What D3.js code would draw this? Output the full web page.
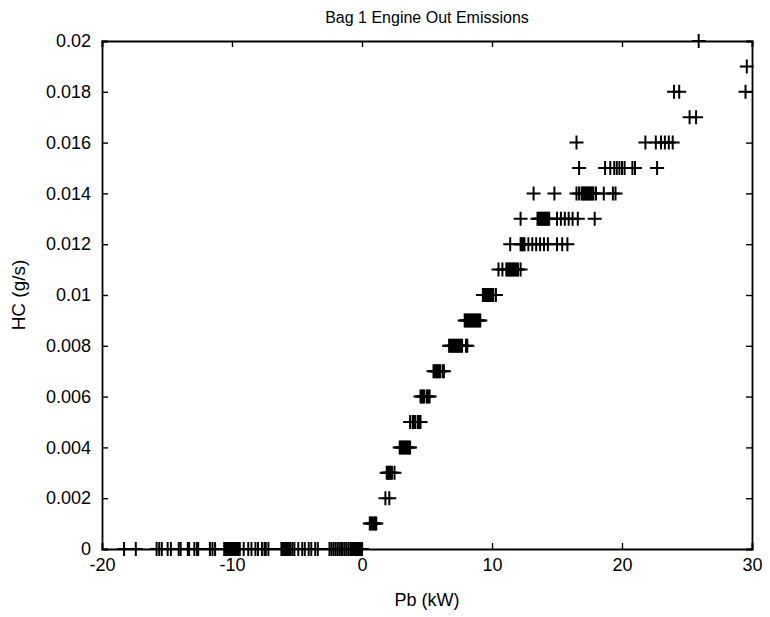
<!DOCTYPE html>
<html>
<head>
<meta charset="utf-8">
<script src="https://cdn.jsdelivr.net/npm/d3@7"></script>
<style>
  html, body { margin: 0; padding: 0; background: #fff; }
  svg { display: block; font-family: "Liberation Sans", Arial, Helvetica, sans-serif; }
</style>
</head>
<body>
<svg id="chart" width="770" height="617"></svg>
<script>
// ---- Data: Pb (kW) values observed at each quantized HC level (g/s) ----
const title = "Bag 1 Engine Out Emissions";
const xLabel = "Pb (kW)";
const yLabel = "HC (g/s)";

const hcLevels = [0, 0.001, 0.002, 0.003, 0.004, 0.005, 0.006, 0.007, 0.008, 0.009, 0.010,
                  0.011, 0.012, 0.013, 0.014, 0.015, 0.016, 0.017, 0.018, 0.019, 0.020];

const pbAtHc000 = [-18.3, -17.4, -15.8, -15.6, -15.4, -14.95, -14.7, -14.1, -13.95, -13.4, -13.3,
                   -12.9, -12.7, -12.6, -11.7, -11.5, -11.3,
                   -10.6, -10.5, -10.4, -10.3, -10.2, -10.1, -10.0, -9.9, -9.8, -9.7, -9.6, -9.5, -9.4,
                   -9.1, -8.75, -8.5, -8.2, -8.0, -7.7, -7.5, -7.4, -7.2,
                   -6.2, -6.1, -6.0, -5.9, -5.8, -5.7, -5.6, -5.5, -5.35, -5.2,
                   -4.9, -4.6, -4.4, -4.1, -3.9, -3.6, -3.4,
                   -2.5, -2.35, -2.2, -2.05, -1.9, -1.75, -1.6, -1.5, -1.35, -1.2, -1.05, -0.9,
                   -0.8, -0.7, -0.6, -0.5, -0.4, -0.3, -0.2, -0.1, 0.0];
const pbAtHc001 = [0.6, 0.7, 0.8, 0.9, 1.0, 1.1];
const pbAtHc002 = [1.8, 2.1];
const pbAtHc003 = [1.9, 2.0, 2.1, 2.2, 2.3, 2.5];
const pbAtHc004 = [2.9, 3.0, 3.1, 3.2, 3.3, 3.4, 3.5, 3.6, 3.7];
const pbAtHc005 = [3.7, 3.9, 4.0, 4.1, 4.3, 4.4, 4.5];
const pbAtHc006 = [4.5, 4.6, 4.7, 4.8, 5.0, 5.1, 5.2];
const pbAtHc007 = [5.5, 5.6, 5.7, 5.8, 5.9, 6.0, 6.2, 6.3];
const pbAtHc008 = [6.7, 6.8, 6.9, 7.0, 7.1, 7.2, 7.3, 7.4, 7.5, 7.6, 7.7, 8.0, 8.1];
const pbAtHc009 = [7.9, 8.0, 8.1, 8.2, 8.3, 8.4, 8.5, 8.6, 8.7, 8.8, 8.9, 9.0, 9.1];
const pbAtHc010 = [9.3, 9.4, 9.5, 9.6, 9.7, 9.8, 9.9, 10.0, 10.1, 10.3];
const pbAtHc011 = [10.5, 10.8, 11.1, 11.2, 11.3, 11.4, 11.5, 11.6, 11.7, 11.8, 11.9, 12.0, 12.2];
const pbAtHc012 = [11.4, 12.2, 12.3, 12.4, 12.5, 12.8, 13.1, 13.4, 13.7, 14.0, 14.3, 15.0, 15.4, 15.8];
const pbAtHc013 = [12.2, 13.5, 13.6, 13.7, 13.8, 13.9, 14.0, 14.1, 14.2, 14.3, 14.4,
                   15.0, 15.3, 15.6, 15.9, 16.2, 16.6, 17.9];
const pbAtHc014 = [13.2, 14.8, 16.5, 16.7, 16.9, 17.0, 17.1, 17.2, 17.3, 17.4, 17.5, 17.6, 17.7, 17.8, 18.0,
                   18.6, 19.3, 19.5];
const pbAtHc015 = [16.7, 18.7, 19.1, 19.4, 19.6, 19.8, 20.0, 20.2, 20.8, 21.0, 22.7];
const pbAtHc016 = [16.5, 21.8, 22.6, 23.0, 23.3, 23.6, 23.9];
const pbAtHc017 = [25.2, 25.7];
const pbAtHc018 = [24.0, 24.4, 29.5];
const pbAtHc019 = [29.6];
const pbAtHc020 = [25.9];

const xTicks = [-20, -10, 0, 10, 20, 30];
const xTickLabels = ["-20", "-10", "0", "10", "20", "30"];
const yTicks = [0, 0.002, 0.004, 0.006, 0.008, 0.010, 0.012, 0.014, 0.016, 0.018, 0.020];
const yTickLabels = ["0", "0.002", "0.004", "0.006", "0.008", "0.01", "0.012", "0.014", "0.016", "0.018", "0.02"];

const pbByLevel = [pbAtHc000, pbAtHc001, pbAtHc002, pbAtHc003, pbAtHc004, pbAtHc005, pbAtHc006,
                   pbAtHc007, pbAtHc008, pbAtHc009, pbAtHc010, pbAtHc011, pbAtHc012, pbAtHc013,
                   pbAtHc014, pbAtHc015, pbAtHc016, pbAtHc017, pbAtHc018, pbAtHc019, pbAtHc020];

const points = [];
hcLevels.forEach((hc, i) => pbByLevel[i].forEach(pb => points.push({ pb, hc })));

// ---- Layout ----
const svg = d3.select("#chart");
const W = 770, H = 617;
const margin = { left: 102, top: 41, right: 18, bottom: 68 };
const pw = W - margin.left - margin.right;   // 650
const ph = H - margin.top - margin.bottom;   // 508

svg.append("rect").attr("width", W).attr("height", H).attr("fill", "#fff");

const x = d3.scaleLinear().domain([-20, 30]).range([0, pw]);
const y = d3.scaleLinear().domain([0, 0.02]).range([ph, 0]);

const g = svg.append("g").attr("transform", `translate(${margin.left},${margin.top})`);

const tickFont = 18;

const xAxis = g.append("g").attr("transform", `translate(0,${ph})`)
  .call(d3.axisBottom(x).tickValues(xTicks).tickSize(-6).tickPadding(9)
        .tickFormat((d, i) => xTickLabels[i]));
const yAxis = g.append("g")
  .call(d3.axisLeft(y).tickValues(yTicks).tickSize(-6).tickPadding(11)
        .tickFormat((d, i) => yTickLabels[i]));
const topAxis = g.append("g")
  .call(d3.axisTop(x).tickValues(xTicks).tickSize(-6).tickFormat(""));
const rightAxis = g.append("g").attr("transform", `translate(${pw},0)`)
  .call(d3.axisRight(y).tickValues(yTicks).tickSize(-6).tickFormat(""));

[xAxis, yAxis, topAxis, rightAxis].forEach(a => {
  a.selectAll(".domain").attr("stroke", "#000").attr("stroke-width", 1.8);
  a.selectAll(".tick line").attr("stroke", "#000").attr("stroke-width", 1.4);
  a.selectAll(".tick text").attr("fill", "#000").attr("font-size", tickFont)
    .attr("font-family", "\"Liberation Sans\", Arial, sans-serif");
});

// markers '+'
const arm = 7;
const marks = g.append("g").attr("stroke", "#000").attr("stroke-width", 2).attr("fill", "none");
marks.selectAll("path").data(points).join("path")
  .attr("d", d => {
    const cx = x(d.pb), cy = y(d.hc);
    return `M${cx - arm},${cy}H${cx + arm}M${cx},${cy - arm}V${cy + arm}`;
  });

// title & labels
svg.append("text").attr("x", margin.left + pw / 2).attr("y", 23)
  .attr("text-anchor", "middle").attr("font-size", 16).attr("fill", "#000").text(title);
svg.append("text").attr("x", margin.left + pw / 2).attr("y", 606)
  .attr("text-anchor", "middle").attr("font-size", 18).attr("fill", "#000").text(xLabel);
svg.append("text")
  .attr("transform", `translate(25,${margin.top + ph / 2}) rotate(-90)`)
  .attr("text-anchor", "middle").attr("font-size", 19).attr("fill", "#000").text(yLabel);
</script>
</body>
</html>
